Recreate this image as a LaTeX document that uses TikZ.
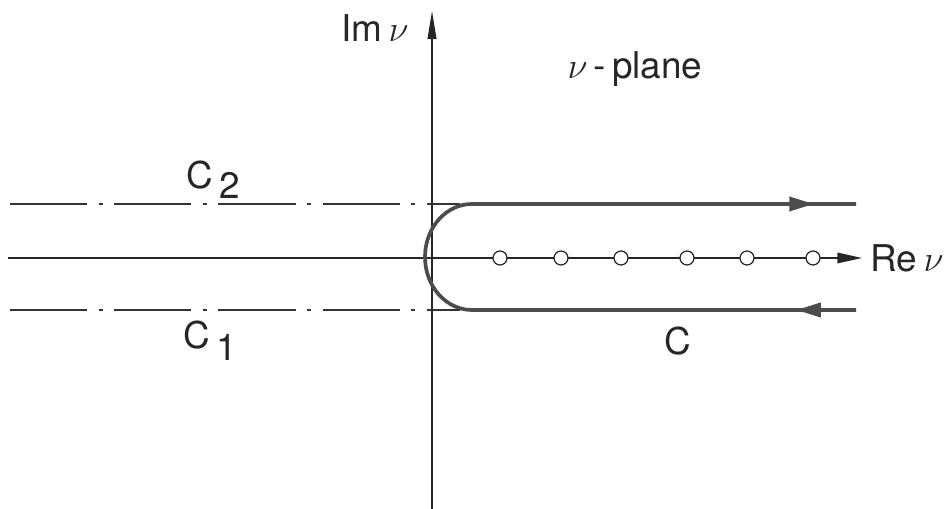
\documentclass[tikz,border=0pt]{standalone}
\usepackage{fontspec}
\setmainfont{TeX Gyre Heros}
\usetikzlibrary{arrows.meta,decorations.markings}

\begin{document}
\begin{tikzpicture}[x=0.02cm, y=0.02cm,
    axisline/.style={draw=black!85, line width=0.8pt},
    dashdotline/.style={draw=black!80, line width=0.8pt, dash pattern=on 44pt off 6.5pt on 2.3pt off 6.5pt},
    contour/.style={draw=black!70, line width=2.1pt},
    pole/.style={circle, draw=black!85, fill=white, line width=0.7pt, minimum size=0.28cm, inner sep=0pt},
    lbl/.style={font=\fontsize{21}{24}\selectfont, text=black!85, inner sep=0pt}]
    \useasboundingbox (0,0) rectangle (952,509);

    % axes
    \coordinate (xstart) at (8,251);
    \coordinate (xend) at (862,251);
    \coordinate (ystart) at (432,0);
    \coordinate (yend) at (432,498);
    \draw[axisline, -{Triangle[length=14pt, width=6pt]}] (xstart) -- (xend);
    \draw[axisline, -{Triangle[length=16pt, width=5pt]}] (ystart) -- (yend);

    % lines C1 and C2
    \coordinate (c2a) at (10,305);
    \coordinate (c2b) at (460,305);
    \coordinate (c1a) at (10,199);
    \coordinate (c1b) at (460,199);
    \draw[dashdotline] (c2a) -- (c2b);
    \draw[dashdotline] (c1a) -- (c1b);

    % contour C
    \coordinate (cstart) at (856,199);
    \coordinate (cbot) at (472,199);
    \coordinate (ctop) at (472,305);
    \coordinate (cend) at (856,305);
    \draw[contour, postaction={decorate}, decoration={markings,
        mark=at position 34pt with {\arrow{Triangle[length=14pt, width=8pt]}},
        mark=at position -24pt with {\arrow{Triangle[length=14pt, width=8pt]}}}]
      (cstart) -- (cbot) arc[start angle=270, end angle=90, x radius=47, y radius=53] -- (cend);

    % poles
    \foreach \px [count=\i] in {500,561,621,687,747,813}
      \node[pole] (p\i) at (\px,251) {};

    % labels
    \node[lbl] (imlabel) at (375,481) {Im\,$\nu$};
    \node[lbl] (relabel) at (907,251) {Re\,$\nu$};
    \node[lbl] (plane) at (635,440) {$\nu$\,-\,plane};
    \node[lbl] (c2label) at (213,329) {C\raisebox{-0.5ex}{\,2}};
    \node[lbl] (c1label) at (210,168) {C\raisebox{-0.6ex}{\,1}};
    \node[lbl] (clabel) at (678,168) {C};
  \end{tikzpicture}
\end{document}
